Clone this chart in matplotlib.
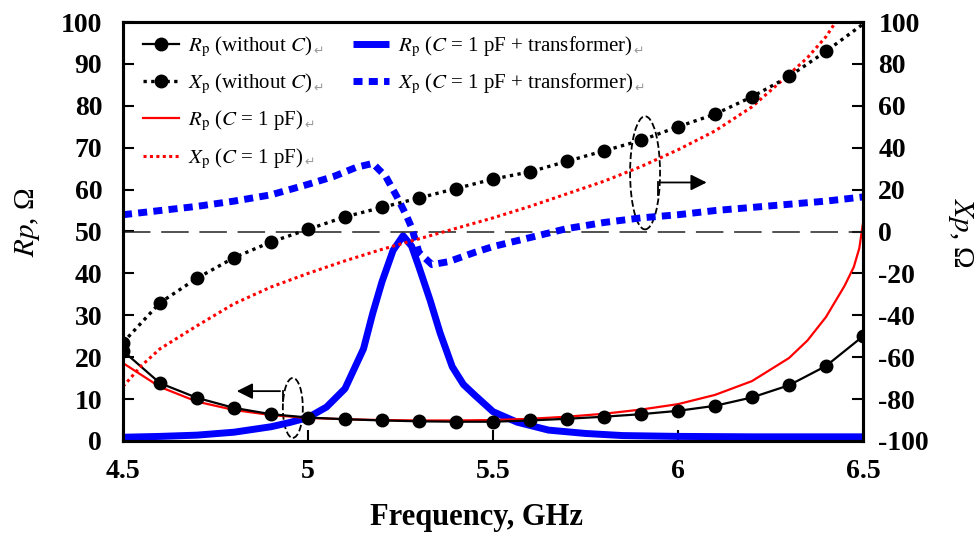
import matplotlib
matplotlib.use('Agg')
import matplotlib.pyplot as plt
from matplotlib.patches import Ellipse

plt.rcParams['font.family'] = ['Liberation Serif', 'DejaVu Sans']
plt.rcParams['mathtext.fontset'] = 'stix'
plt.rcParams['axes.unicode_minus'] = False

# frequencias (GHz) dos pontos com marcador
freq = [4.5, 4.6, 4.7, 4.8, 4.9, 5.0, 5.1, 5.2, 5.3, 5.4, 5.5,
        5.6, 5.7, 5.8, 5.9, 6.0, 6.1, 6.2, 6.3, 6.4, 6.5]
rp_sem_c = [21.5, 13.8, 10.3, 7.9, 6.4, 5.6, 5.2, 4.9, 4.7, 4.6, 4.6,
            4.9, 5.3, 5.8, 6.4, 7.2, 8.4, 10.4, 13.3, 17.9, 25.0]
xp_sem_c = [-53, -34, -22.3, -12.5, -5, 1, 7, 11.5, 16, 20.5, 25,
            28.5, 33.5, 38.5, 43.5, 50, 56, 64.3, 74, 86, 99]

# C = 1 pF
f_rp_c = [4.5, 4.6, 4.7, 4.8, 4.9, 5.0, 5.1, 5.2, 5.3, 5.4, 5.5, 5.6, 5.7,
          5.8, 5.9, 6.0, 6.1, 6.2, 6.3, 6.35, 6.4, 6.45, 6.475, 6.49, 6.5]
rp_c = [18.6, 12.9, 9.4, 7.4, 6.2, 5.5, 5.2, 5.0, 4.9, 4.9, 5.0, 5.3, 5.8,
        6.5, 7.5, 8.8, 11.0, 14.3, 19.8, 24.0, 29.6, 37.0, 41.5, 46.0, 52.0]
f_xp_c = [4.5, 4.55, 4.6, 4.7, 4.8, 4.9, 5.0, 5.1, 5.2, 5.3, 5.4, 5.5, 5.6,
          5.7, 5.8, 5.9, 6.0, 6.1, 6.2, 6.3, 6.35, 6.4, 6.43]
xp_c = [-74, -64, -56, -45, -34.5, -26.5, -20, -14, -8.5, -3.5, 1.5, 6.5, 12,
        18, 24, 31, 39, 48, 59.5, 75, 83, 93, 101]

# C = 1 pF + transformador
f_rp_tr = [4.5, 4.6, 4.7, 4.8, 4.9, 4.95, 5.0, 5.05, 5.1, 5.15, 5.175, 5.2,
           5.23, 5.257, 5.28, 5.3, 5.33, 5.357, 5.39, 5.42, 5.45, 5.5, 5.565,
           5.65, 5.75, 5.85, 6.0, 6.2, 6.5]
rp_tr = [0.9, 1.1, 1.4, 2.1, 3.4, 4.4, 5.6, 8.1, 12.5, 22, 30.5, 38,
         45.5, 49, 46.5, 41.5, 33.6, 25.8, 17.7, 13.5, 11, 7, 4.5,
         2.6, 1.8, 1.3, 1.1, 1.0, 1.0]
f_xp_tr = [4.5, 4.6, 4.7, 4.8, 4.9, 5.0, 5.07, 5.13, 5.175, 5.21, 5.24, 5.267,
           5.28, 5.3, 5.335, 5.38, 5.45, 5.5, 5.6, 5.7, 5.8, 5.9, 6.0, 6.1,
           6.2, 6.3, 6.4, 6.5]
xp_tr = [8, 10, 12, 14.5, 17.5, 22.5, 26.3, 30.6, 32.5, 26.3, 16.7, 7.2,
         1.9, -10, -15.8, -14.4, -10, -7.2, -2.9, 1.4, 4.3, 6.5, 8, 10,
         11.5, 13, 14.5, 16.5]

W, H = 975, 535
fig = plt.figure(figsize=(W / 100, H / 100), dpi=100)
ax = fig.add_axes([123 / W, 1 - 441 / H, 740 / W, 419 / H])
ax2 = ax.twinx()

# curvas de Rp (eixo esquerdo)
l_rp_tr, = ax.plot(f_rp_tr, rp_tr, color='#0000ff', lw=5, solid_capstyle='butt')
l_rp_c, = ax.plot(f_rp_c, rp_c, color='red', lw=1.6)
l_rp, = ax.plot(freq, rp_sem_c, color='black', lw=1.6, marker='o', ms=9)

# curvas de Xp (eixo direito)
ax2.axhline(0, color='#222222', lw=1.1, dashes=(18, 7))
l_xp_tr, = ax2.plot(f_xp_tr, xp_tr, color='#0000ff', lw=5, dashes=(1.3, 0.9))
l_xp_c, = ax2.plot(f_xp_c, xp_c, color='red', lw=2.2, dashes=(1, 1.1))
l_xp, = ax2.plot(freq, xp_sem_c, color='black', lw=2.4, dashes=(1, 1.3),
                 marker='o', ms=9, markevery=slice(0, 20))

ax.set_xlim(4.5, 6.5)
ax.set_ylim(0, 100)
ax2.set_ylim(-100, 100)
ax.set_xticks([4.5, 5, 5.5, 6, 6.5])
ax.set_xticklabels(['4.5', '5', '5.5', '6', '6.5'])
ax.set_yticks(range(0, 101, 10))
ax2.set_yticks(range(-100, 101, 20))

ax.tick_params(axis='x', direction='in', length=8, width=1.5, pad=13, labelsize=20)
ax.tick_params(axis='y', direction='in', length=8, width=1.5, pad=15, labelsize=20)
ax2.tick_params(axis='y', direction='in', length=8, width=1.5, pad=11, labelsize=20)
for t in ax.get_xticklabels() + ax.get_yticklabels() + ax2.get_yticklabels():
    t.set_fontweight('bold')
for a in (ax, ax2):
    for s in a.spines.values():
        s.set_linewidth(2.2)

# elipses e setas
ax.add_patch(Ellipse((4.959, 7.9), 0.054, 14.3, fill=False, ls='--', lw=1.3, color='black'))
ax.plot([4.932, 4.932], [9.6, 11.9], color='black', lw=1.3)
ax.annotate('', xy=(4.80, 11.9), xytext=(4.932, 11.9),
            arrowprops=dict(arrowstyle='-|>', color='black', lw=1.3, mutation_scale=24))
ax2.add_patch(Ellipse((5.911, 28), 0.081, 54, fill=False, ls='--', lw=1.3, color='black'))
ax2.plot([5.946, 5.946], [17.5, 23.4], color='black', lw=1.3)
ax2.annotate('', xy=(6.085, 23.4), xytext=(5.946, 23.4),
             arrowprops=dict(arrowstyle='-|>', color='black', lw=1.3, mutation_scale=24))

# rotulos
fig.text(477 / W, 1 - 517 / H, 'Frequency, GHz', fontsize=22, fontweight='bold',
         ha='center', va='center')
fig.text(28 / W, 1 - 222 / H, '$Rp$, Ω', fontsize=21, rotation=90, ha='center', va='center')
fig.text(960 / W, 1 - 233 / H, '$Xp$, Ω', fontsize=21, rotation=270, ha='center', va='center')

# legenda em duas colunas
opts = dict(loc='upper left', bbox_transform=fig.transFigure, frameon=False, fontsize=15,
            handlelength=1.75, handletextpad=0.4, labelspacing=0.62, borderpad=0,
            borderaxespad=0)
leg1 = ax2.legend([l_rp, l_xp, l_rp_c, l_xp_c],
                  [r'$R_\mathrm{p}$ (without $C$)', r'$X_\mathrm{p}$ (without $C$)',
                   r'$R_\mathrm{p}$ ($C$ = 1 pF)', r'$X_\mathrm{p}$ ($C$ = 1 pF)'],
                  bbox_to_anchor=(143 / W, 1 - 35 / H), **opts)
ax2.add_artist(leg1)
leg2 = ax2.legend([l_rp_tr, l_xp_tr],
                  [r'$R_\mathrm{p}$ ($C$ = 1 pF + transformer)',
                   r'$X_\mathrm{p}$ ($C$ = 1 pF + transformer)'],
                  bbox_to_anchor=(353 / W, 1 - 35 / H), **opts)

# marcas de paragrafo depois de cada texto da legenda
fig.canvas.draw()
r = fig.canvas.get_renderer()
for t in leg1.get_texts() + leg2.get_texts():
    bb = t.get_window_extent(r)
    fig.text((bb.x1 + 1) / W, (bb.y0 + 2) / H, '↵', color='#999999', fontsize=9,
             family='DejaVu Sans', va='bottom')

fig.savefig('out.png', dpi=100)
